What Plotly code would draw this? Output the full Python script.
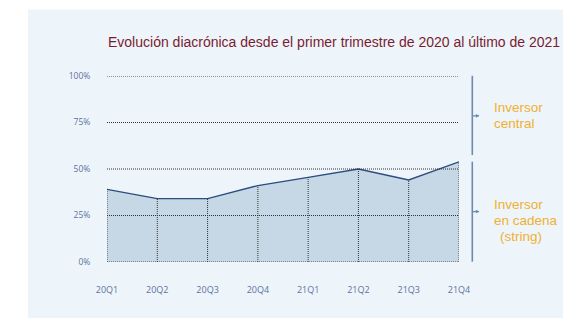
import plotly.graph_objects as go

# Quarterly share (%) of the "inversor en cadena" group
quarters = ["20Q1", "20Q2", "20Q3", "20Q4", "21Q1", "21Q2", "21Q3", "21Q4"]
share = [39.1, 34.1, 34.1, 41.1, 45.5, 50.0, 44.1, 53.8]

y_ticks = [0, 25, 50, 75, 100]
y_tick_labels = ["0%", "25%", "50%", "75%", "100%"]

title_text = "Evolución diacrónica desde el primer trimestre de 2020 al último de 2021"
group_top = ["Inversor", "central"]
group_bottom = ["Inversor", "en cadena", "(string)"]

W, H = 563, 325
L, R, T, B = 107, 104, 75.7, 62.7
plot_w = W - L - R
plot_h = H - T - B

def px_x(px):
    return (px - L) / plot_w

def px_y(py):
    return (H - B - py) / plot_h

LABEL_COLOR = "#5D72A0"
GOLD = "#F0B030"
BRACKET = "#6F88B0"
DOTS = dict(color="#333333", width=1, dash="1px,1px")

fig = go.Figure()

# shaded area under the series
fig.add_trace(go.Scatter(
    x=quarters, y=share, mode="lines",
    fill="tozeroy", fillcolor="#C6D7E5",
    line=dict(color="#2B4C7E", width=1.3),
    hoverinfo="skip", showlegend=False,
))

# dotted drop lines from each quarter's value down to zero
drop_x, drop_y = [], []
for q, v in zip(quarters, share):
    drop_x += [q, q, None]
    drop_y += [0, v, None]
fig.add_trace(go.Scatter(
    x=drop_x, y=drop_y, mode="lines", line=DOTS,
    hoverinfo="skip", showlegend=False,
))

shapes = []
# light panel behind the chart
shapes.append(dict(type="rect", xref="paper", yref="paper", layer="below",
                   x0=px_x(28), x1=px_x(563), y0=px_y(318.5), y1=px_y(9),
                   fillcolor="#EDF5FB", line=dict(width=0)))
# dotted horizontal guides
for t in y_ticks:
    shapes.append(dict(type="line", xref="paper", yref="y", x0=0, x1=1, y0=t, y1=t,
                       line=DOTS))
# bracket on the right
bx = px_x(472.3)
shapes.append(dict(type="line", xref="paper", yref="paper", x0=bx, x1=bx,
                   y0=px_y(155), y1=px_y(75.5), line=dict(color=BRACKET, width=1.6)))
shapes.append(dict(type="line", xref="paper", yref="paper", x0=bx, x1=bx,
                   y0=px_y(262), y1=px_y(161.7), line=dict(color=BRACKET, width=1.6)))

annotations = []
annotations.append(dict(xref="paper", yref="paper", x=px_x(106), y=px_y(41.5),
                        xanchor="left", yanchor="middle", showarrow=False,
                        text=title_text,
                        font=dict(family="Liberation Sans", size=14, color="#7A1C30")))
# small pointer ticks on the bracket
for py in (115.7, 211.7):
    annotations.append(dict(xref="paper", yref="paper", x=px_x(479.5), y=px_y(py),
                            ax=-8, ay=0, text="", showarrow=True,
                            arrowhead=2, arrowsize=0.6, arrowwidth=1.2,
                            arrowcolor=BRACKET))
# group labels
for i, line in enumerate(group_top):
    annotations.append(dict(xref="paper", yref="paper", x=px_x(492), y=px_y(107.7 + i * 15.5),
                            xanchor="left", yanchor="middle", showarrow=False, text=line,
                            font=dict(family="Liberation Sans", size=13.5, color=GOLD)))
for i, line in enumerate(group_bottom):
    x0 = 498 if line.startswith("(") else 492
    annotations.append(dict(xref="paper", yref="paper", x=px_x(x0), y=px_y(205 + i * 16),
                            xanchor="left", yanchor="middle", showarrow=False, text=line,
                            font=dict(family="Liberation Sans", size=13.5, color=GOLD)))

fig.update_layout(
    width=W, height=H, autosize=False,
    margin=dict(l=L, r=R, t=T, b=B, pad=0),
    paper_bgcolor="white", plot_bgcolor="rgba(0,0,0,0)",
    shapes=shapes, annotations=annotations,
    xaxis=dict(type="category", categoryorder="array", categoryarray=quarters,
               range=[0, len(quarters) - 1], showgrid=False, zeroline=False,
               showline=False, ticks="outside", ticklen=19,
               tickcolor="rgba(0,0,0,0)",
               tickfont=dict(family="Open Sans", size=9, color=LABEL_COLOR)),
    yaxis=dict(range=[0, 100], tickvals=y_ticks, ticktext=y_tick_labels,
               showgrid=False, zeroline=False, showline=False,
               ticks="outside", ticklen=14, tickcolor="rgba(0,0,0,0)",
               tickfont=dict(family="Open Sans", size=8.5, color=LABEL_COLOR)),
)

fig.write_html("out.html")
